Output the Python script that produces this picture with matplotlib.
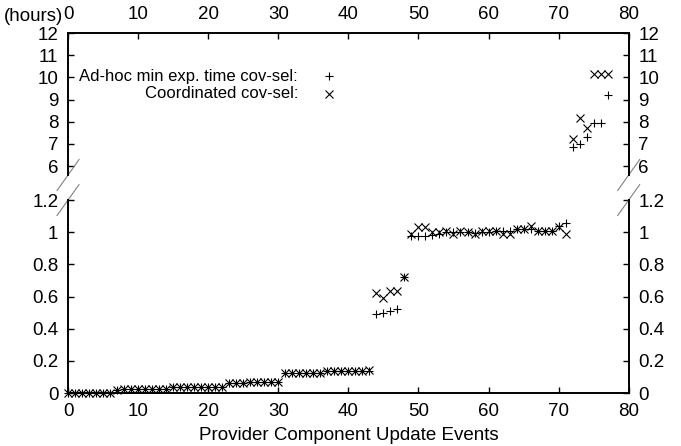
import numpy as np
import matplotlib.pyplot as plt
from matplotlib.ticker import FuncFormatter

plt.rcParams['font.family'] = ['Liberation Sans', 'DejaVu Sans']
plt.rcParams['font.size'] = 13.5

# event index 0..77
events = list(range(78))

# ad-hoc min expiration time coverage selection (hours)
adhoc = [0.0, 0.0, 0.0, 0.0, 0.0, 0.0, 0.0,
         0.020, 0.024, 0.025, 0.025, 0.025, 0.025, 0.026, 0.026,
         0.035, 0.036, 0.036, 0.037, 0.037, 0.037, 0.038, 0.038,
         0.062, 0.064, 0.065, 0.066, 0.066, 0.067, 0.068, 0.070,
         0.122, 0.123, 0.124, 0.124, 0.125, 0.126,
         0.136, 0.137, 0.138, 0.138, 0.139, 0.140, 0.140,
         0.49, 0.495, 0.51, 0.52, 0.72,
         0.975, 0.975, 0.975, 0.98, 0.99, 1.0, 1.0, 1.0, 1.0, 0.995, 1.0, 1.0,
         1.01, 1.01, 1.01, 1.02, 1.02, 1.02, 1.01, 1.01, 1.01, 1.04, 1.055,
         6.87, 7.0, 7.31, 7.96, 7.96, 9.19]

# coordinated coverage selection (hours)
coord = [0.0, 0.0, 0.0, 0.0, 0.0, 0.0, 0.0,
         0.021, 0.024, 0.025, 0.025, 0.026, 0.026, 0.026, 0.027,
         0.035, 0.036, 0.037, 0.037, 0.037, 0.038, 0.038, 0.038,
         0.062, 0.064, 0.065, 0.066, 0.067, 0.067, 0.068, 0.070,
         0.122, 0.123, 0.124, 0.125, 0.125, 0.126,
         0.136, 0.137, 0.138, 0.139, 0.139, 0.140, 0.141,
         0.62, 0.59, 0.635, 0.635, 0.72,
         0.99, 1.03, 1.03, 1.0, 1.0, 1.01, 0.99, 1.01, 1.0, 0.99, 1.01, 1.01,
         1.01, 0.99, 0.99, 1.02, 1.02, 1.04, 1.01, 1.01, 1.01, 1.03, 0.99,
         7.24, 8.19, 7.70, 10.13, 10.13, 10.13]

labels = ['Ad-hoc min exp. time cov-sel:', 'Coordinated cov-sel:']
markers = ['+', 'x']

low_lim = (0, 1.2)
high_lim = (5.6, 12)

fig = plt.figure(figsize=(6.81, 4.46), dpi=100)
ax_top = fig.add_axes([0.0999, 0.6076, 0.8233, 0.3184])
ax_bot = fig.add_axes([0.0999, 0.1188, 0.8233, 0.4327])

x = np.array(events)
series = [np.array(adhoc), np.array(coord)]

for ax, (lo, hi) in [(ax_top, high_lim), (ax_bot, low_lim)]:
    for vals, m in zip(series, markers):
        keep = (vals >= lo) & (vals <= hi)
        ax.plot(x[keep], vals[keep], m, color='black', ms=6 if m == '+' else 5.5,
                mew=0.8, clip_on=False)
    ax.set_xlim(0, 80)
    ax.set_ylim(lo, hi)
    ax.set_xticks(range(0, 81, 10))
    for s in ax.spines.values():
        s.set_linewidth(1.4)
    ax.tick_params(axis='both', direction='in', length=4, width=1, pad=7)
    ax.tick_params(axis='y', left=True, right=True, labelleft=True, labelright=True)

ax_top.set_yticks(range(6, 13))
ax_top.spines['bottom'].set_visible(False)
ax_top.tick_params(axis='x', top=True, bottom=False, labeltop=True, labelbottom=False)

ax_bot.set_yticks(np.arange(0, 1.21, 0.2))
ax_bot.yaxis.set_major_formatter(FuncFormatter(lambda v, p: '%g' % round(v, 2)))
ax_bot.spines['top'].set_visible(False)
ax_bot.tick_params(axis='x', top=False, bottom=True)
ax_bot.set_xlabel('Provider Component Update Events', labelpad=5)

fig.text(0.0925, 0.962, '(hours)', ha='right', va='center')

# break marks
dx = 0.0196
for ax, dy, yy in [(ax_top, 0.109, 0), (ax_bot, 0.080, 1)]:
    kw = dict(transform=ax.transAxes, color='gray', lw=0.8, clip_on=False)
    ax.plot([-dx, dx], [yy - dy, yy + dy], **kw)
    ax.plot([1 - dx, 1 + dx], [yy - dy, yy + dy], **kw)

# gnuplot-style key: right-aligned text, sample to the right
W, H = 681, 446
for i, (lab, m) in enumerate(zip(labels, markers)):
    yk = 1 - (76 + 18 * i) / H
    fig.text(298 / W, yk, lab, ha='right', va='center', fontsize=12)
    fig.lines.append(plt.Line2D([329 / W], [yk], marker=m, color='black', ls='none',
                                ms=6 if m == '+' else 5.5, mew=0.8,
                                transform=fig.transFigure, figure=fig))

fig.savefig('out.png', dpi=100)
